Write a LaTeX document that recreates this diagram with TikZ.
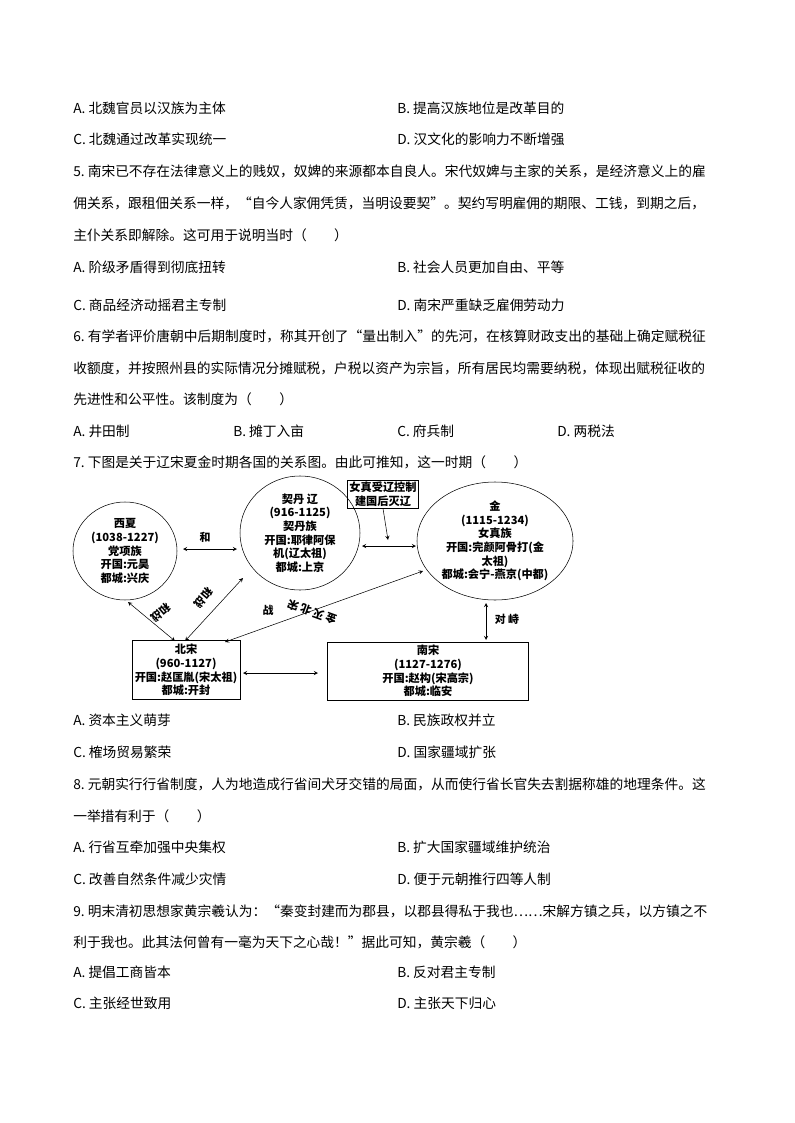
\documentclass[tikz,border=0pt]{standalone}
\usepackage{fontspec}
\setmainfont{Noto Sans CJK SC}
\begin{document}
\begin{tikzpicture}[x=0.75pt,y=-0.75pt,
  t/.style={anchor=west,inner sep=0,font=\fontsize{10.3pt}{12pt}\selectfont},
  d/.style={align=center,inner sep=0,font=\fontsize{8.4pt}{10.2pt}\selectfont\bfseries},
  lb/.style={inner sep=0,font=\fontsize{8.2pt}{9pt}\selectfont\bfseries},
  ar/.style={<->,>=stealth,thin}]
\useasboundingbox (0,0) rectangle (794,1123);
\node[t] (l1a) at (73,108) {A.\ 北魏官员以汉族为主体};
\node[t] (l1b) at (397,108) {B.\ 提高汉族地位是改革目的};
\node[t] (l2a) at (73,139) {C.\ 北魏通过改革实现统一};
\node[t] (l2b) at (397,139) {D.\ 汉文化的影响力不断增强};
\node[t] (q5a) at (73,171) {5.\ 南宋已不存在法律意义上的贱奴，奴婢的来源都本自良人。宋代奴婢与主家的关系，是经济意义上的雇};
\node[t] (q5b) at (73,203) {佣关系，跟租佃关系一样，“自今人家佣凭赁，当明设要契”。契约写明雇佣的期限、工钱，到期之后，};
\node[t] (q5c) at (73,235) {主仆关系即解除。这可用于说明当时（\quad\quad）};
\node[t] (o5a) at (73,267) {A.\ 阶级矛盾得到彻底扭转};
\node[t] (o5b) at (397,267) {B.\ 社会人员更加自由、平等};
\node[t] (o5c) at (73,305) {C.\ 商品经济动摇君主专制};
\node[t] (o5d) at (397,305) {D.\ 南宋严重缺乏雇佣劳动力};
\node[t] (q6a) at (73,336) {6.\ 有学者评价唐朝中后期制度时，称其开创了“量出制入”的先河，在核算财政支出的基础上确定赋税征};
\node[t] (q6b) at (73,368) {收额度，并按照州县的实际情况分摊赋税，户税以资产为宗旨，所有居民均需要纳税，体现出赋税征收的};
\node[t] (q6c) at (73,399) {先进性和公平性。该制度为（\quad\quad）};
\node[t] (o6a) at (73,431) {A.\ 井田制};
\node[t] (o6b) at (233,431) {B.\ 摊丁入亩};
\node[t] (o6c) at (397,431) {C.\ 府兵制};
\node[t] (o6d) at (557,431) {D.\ 两税法};
\node[t] (q7) at (73,462) {7.\ 下图是关于辽宋夏金时期各国的关系图。由此可推知，这一时期（\quad\quad）};
% diagram
\draw (125,551) ellipse [x radius=52, y radius=49];
\node[d] (xx) at (125,551) {西夏\\(1038-1227)\\党项族\\开国:元昊\\都城:兴庆};
\draw (300,533) ellipse [x radius=60, y radius=57];
\node[d] (liao) at (300,533) {契丹 辽\\(916-1125)\\契丹族\\开国:耶律阿保\\机(辽太祖)\\都城:上京};
\draw (495,541) ellipse [x radius=78, y radius=59];
\node[d] (jin) at (495,541) {金\\(1115-1234)\\女真族\\开国:完颜阿骨打(金\\太祖)\\都城:会宁-燕京(中都)};
\node[d,draw,inner sep=1.5pt,minimum width=48pt,minimum height=21pt] (nz) at (383,494) {女真受辽控制\\建国后灭辽};
\node[d,draw,minimum width=81pt,minimum height=44pt] (bs) at (186,670) {北宋\\(960-1127)\\开国:赵匡胤(宋太祖)\\都城:开封};
\node[d,draw,minimum width=151pt,minimum height=43.5pt] (ns) at (428,671) {南宋\\(1127-1276)\\开国:赵构(宋高宗)\\都城:临安};
\coordinate (c1) at (183,549); \coordinate (c2) at (237,549);
\draw[ar] (c1) -- (c2);
\coordinate (c3) at (362,546); \coordinate (c4) at (416,546);
\draw[ar] (c3) -- (c4);
\coordinate (c5) at (388,540);
\draw[->,>=stealth,thin] (nz.south) -- (c5);
\coordinate (c6) at (243,673); \coordinate (c7) at (318,673);
\draw[ar] (c6) -- (c7);
\coordinate (c8) at (486,603); \coordinate (c9) at (486,640);
\draw[ar] (c8) -- (c9);
\coordinate (c10) at (128,602); \coordinate (c11) at (175,641);
\draw[ar] (c10) -- (c11);
\coordinate (c12) at (243,578); \coordinate (c13) at (185,641);
\draw[ar] (c12) -- (c13);
\coordinate (c14) at (225,642); \coordinate (c15) at (423,571);
\draw[ar] (c14) -- (c15);
\node[lb] (h1) at (205,537) {和};
\node[lb] (h2) at (507,619) {对 峙};
\node[lb] (h3) at (268,610) {战};
\node[lb,rotate=-140] (h4) at (161,613) {和战};
\node[lb,rotate=-130] (h5) at (204,598) {和战};
\node[lb,rotate=160] (h6) at (312,612) {金 灭 北 宋};
\node[t] (o7a) at (73,720) {A.\ 资本主义萌芽};
\node[t] (o7b) at (397,720) {B.\ 民族政权并立};
\node[t] (o7c) at (73,752) {C.\ 榷场贸易繁荣};
\node[t] (o7d) at (397,752) {D.\ 国家疆域扩张};
\node[t] (q8a) at (73,784) {8.\ 元朝实行行省制度，人为地造成行省间犬牙交错的局面，从而使行省长官失去割据称雄的地理条件。这};
\node[t] (q8b) at (73,816) {一举措有利于（\quad\quad）};
\node[t] (o8a) at (73,847) {A.\ 行省互牵加强中央集权};
\node[t] (o8b) at (397,847) {B.\ 扩大国家疆域维护统治};
\node[t] (o8c) at (73,879) {C.\ 改善自然条件减少灾情};
\node[t] (o8d) at (397,879) {D.\ 便于元朝推行四等人制};
\node[t] (q9a) at (73,911) {9.\ 明末清初思想家黄宗羲认为：“秦变封建而为郡县，以郡县得私于我也……宋解方镇之兵，以方镇之不};
\node[t] (q9b) at (73,942) {利于我也。此其法何曾有一毫为天下之心哉！”据此可知，黄宗羲（\quad\quad）};
\node[t] (o9a) at (73,972) {A.\ 提倡工商皆本};
\node[t] (o9b) at (397,972) {B.\ 反对君主专制};
\node[t] (o9c) at (73,1003) {C.\ 主张经世致用};
\node[t] (o9d) at (397,1003) {D.\ 主张天下归心};
\end{tikzpicture}
\end{document}
